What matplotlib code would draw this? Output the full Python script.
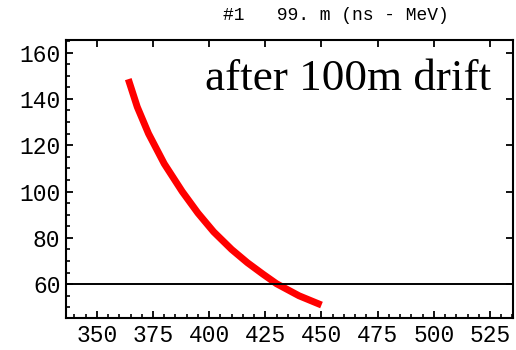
import matplotlib
matplotlib.use("Agg")
import matplotlib.pyplot as plt
from matplotlib.ticker import MultipleLocator

# energy (MeV) vs arrival time (ns) after the drift
energy = [364, 368, 373, 380, 388, 395, 402, 410, 417, 424, 430, 440, 450]
time_ns = [148.5, 136.5, 125, 112, 100, 90.7, 82.6, 75, 69.3, 64.3, 60.2, 55, 51]
ref_level = 60

fig = plt.figure(figsize=(5.16, 3.5), dpi=100)
ax = fig.add_axes([0.128, 0.0914, 0.866, 0.795])

ax.plot(energy, time_ns, color="red", lw=5, solid_capstyle="butt")
ax.axhline(ref_level, color="black", lw=1.4)

ax.set_xlim(336.3, 535.2)
ax.set_ylim(45.4, 165.5)
ax.xaxis.set_major_locator(MultipleLocator(25))
ax.xaxis.set_minor_locator(MultipleLocator(5))
ax.yaxis.set_major_locator(MultipleLocator(20))
ax.yaxis.set_minor_locator(MultipleLocator(5))

for s in ax.spines.values():
    s.set_linewidth(1.5)

ax.tick_params(which="major", direction="in", length=5, width=1.3,
               top=True, right=True, labelsize=16.5, pad=4)
ax.tick_params(which="minor", direction="in", length=3, width=1.2,
               top=False, right=False)
for lab in ax.get_xticklabels() + ax.get_yticklabels():
    lab.set_family("Liberation Mono")

fig.text(336 / 516, 1 - 15 / 350, "#1   99. m (ns - MeV)", ha="center", va="center",
         family="Liberation Mono", fontsize=13)
fig.text(205 / 516, 1 - 90 / 350, "after 100m drift", ha="left", va="baseline",
         family="Liberation Serif", fontsize=32.5)

fig.savefig("out.png", dpi=100)
